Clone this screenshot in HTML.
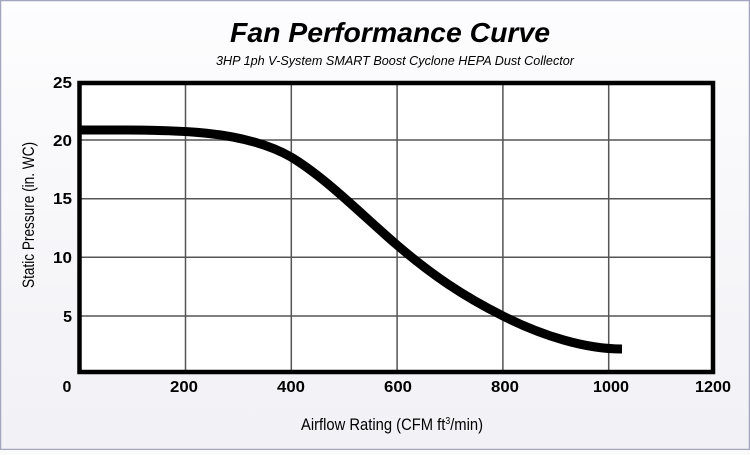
<!DOCTYPE html>
<html><head><style>
html,body{margin:0;padding:0;}
body{width:750px;height:450px;overflow:hidden;background:#fafafb;}
</style></head><body>
<svg width="750" height="450" viewBox="0 0 750 450" xmlns="http://www.w3.org/2000/svg" font-family="Liberation Sans, sans-serif">
<defs><linearGradient id="bg" x1="0" y1="0" x2="0" y2="1"><stop offset="0" stop-color="#fdfdfe"/><stop offset="1" stop-color="#f1f1f6"/></linearGradient></defs>
<rect x="0" y="0" width="750" height="450" fill="url(#bg)"/>
<rect x="0.5" y="0.5" width="749" height="449" fill="none" stroke="#a4a6c0" stroke-width="1.5"/>
<text x="390" y="42" text-anchor="middle" font-size="28" font-weight="bold" font-style="italic" textLength="320" lengthAdjust="spacingAndGlyphs">Fan Performance Curve</text>
<text x="395" y="65" text-anchor="middle" font-size="12.5" font-style="italic" textLength="358" lengthAdjust="spacingAndGlyphs">3HP 1ph V-System SMART Boost Cyclone HEPA Dust Collector</text>
<rect x="80" y="83" width="633" height="289" fill="#fff"/>
<g stroke="#555" stroke-width="1.5">
<line x1="185.5" y1="83" x2="185.5" y2="372"/>
<line x1="291.3" y1="83" x2="291.3" y2="372"/>
<line x1="397.1" y1="83" x2="397.1" y2="372"/>
<line x1="502.9" y1="83" x2="502.9" y2="372"/>
<line x1="608.7" y1="83" x2="608.7" y2="372"/>
<line x1="80" y1="140" x2="713" y2="140"/>
<line x1="80" y1="198.7" x2="713" y2="198.7"/>
<line x1="80" y1="257.3" x2="713" y2="257.3"/>
<line x1="80" y1="316" x2="713" y2="316"/>
</g>
<rect x="79.5" y="83" width="633.5" height="289" fill="none" stroke="#000" stroke-width="4.5"/>
<path d="M80,130 C170,130 240,128 291,157 C326,178 362,215 397,245 C432,275 463,296 503,316 C543,336 585,349 622,349" fill="none" stroke="#000" stroke-width="9"/>
<g font-size="16" font-weight="bold" text-anchor="middle">
<text x="67" y="392">0</text>
<text x="184" y="392" textLength="28" lengthAdjust="spacingAndGlyphs">200</text>
<text x="291" y="392" textLength="28" lengthAdjust="spacingAndGlyphs">400</text>
<text x="398" y="392" textLength="28" lengthAdjust="spacingAndGlyphs">600</text>
<text x="505" y="392" textLength="28" lengthAdjust="spacingAndGlyphs">800</text>
<text x="611" y="392" textLength="36" lengthAdjust="spacingAndGlyphs">1000</text>
<text x="713" y="392" textLength="36" lengthAdjust="spacingAndGlyphs">1200</text>
</g>
<g font-size="16" font-weight="bold" text-anchor="end">
<text x="72" y="88" textLength="19" lengthAdjust="spacingAndGlyphs">25</text>
<text x="72" y="146" textLength="19" lengthAdjust="spacingAndGlyphs">20</text>
<text x="72" y="204" textLength="19" lengthAdjust="spacingAndGlyphs">15</text>
<text x="72" y="263" textLength="19" lengthAdjust="spacingAndGlyphs">10</text>
<text x="72" y="322">5</text>
</g>
<text x="392" y="430" text-anchor="middle" font-size="17" textLength="182" lengthAdjust="spacingAndGlyphs">Airflow Rating (CFM ft<tspan font-size="10" dy="-6">3</tspan><tspan dy="6">/min)</tspan></text>
<text transform="translate(34,215) rotate(-90)" text-anchor="middle" font-size="17" textLength="146" lengthAdjust="spacingAndGlyphs">Static Pressure (in. WC)</text>
</svg>
</body></html>
